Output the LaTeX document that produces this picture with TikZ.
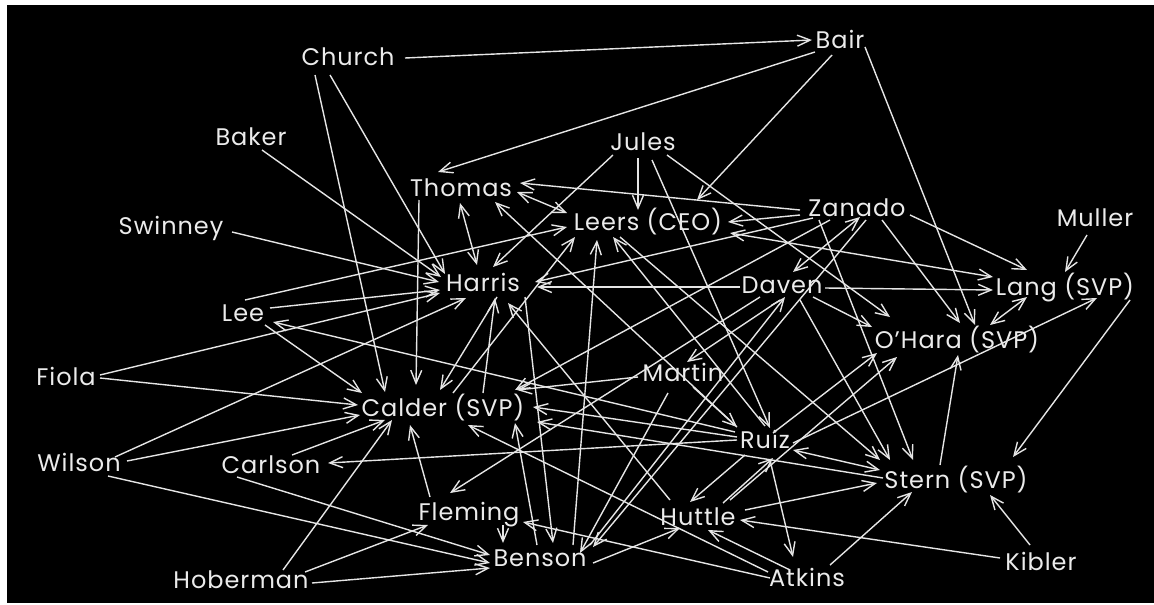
\documentclass[tikz,border=0pt]{standalone}
\usepackage{fontspec}
\setmainfont{Poppins}[LetterSpace=4]
\usetikzlibrary{arrows.meta}
\begin{document}
\begin{tikzpicture}[x=1pt,y=-1pt,
  person/.style={text=white!92!black, font=\fontsize{24}{26}\selectfont,
    inner sep=0pt, text height=17pt, text depth=0pt},
  barb/.tip={Straight Barb[length=13pt,width=11pt]},
  tie/.style={draw=white!90!black, line width=1.4pt, -barb},
  mutual/.style={tie, barb-barb}]
\fill[white] (0,0) rectangle (1154,605);
\fill[black] (7,5) rectangle (1154,603);
\useasboundingbox (0,0) rectangle (1154,605);

% people
\node[person] (church)   at (348,57)  {Church};
\node[person] (bair)     at (840,40)  {Bair};
\node[person] (baker)    at (251,137) {Baker};
\node[person] (swinney)  at (171,226) {Swinney};
\node[person] (jules)    at (643,142) {Jules};
\node[person] (thomas)   at (461,188) {Thomas};
\node[person] (leers)    at (648,222) {Leers (CEO)};
\node[person] (zanado)   at (857,208) {Zanado};
\node[person] (muller)   at (1095,218) {Muller};
\node[person] (harris)   at (483,283) {Harris};
\node[person] (daven)    at (782,285) {Daven};
\node[person] (lang)     at (1065,287) {Lang (SVP)};
\node[person] (lee)      at (243,313) {Lee};
\node[person] (ohara)    at (957,340) {O’Hara (SVP)};
\node[person] (fiola)    at (66,377)  {Fiola};
\node[person] (martin)   at (683,373) {Martin};
\node[person] (calder)   at (443,408) {Calder (SVP)};
\node[person] (ruiz)     at (765,440) {Ruiz};
\node[person] (wilson)   at (79,463)  {Wilson};
\node[person] (carlson)  at (271,465) {Carlson};
\node[person] (stern)    at (956,480) {Stern (SVP)};
\node[person] (fleming)  at (469,512) {Fleming};
\node[person] (huttle)   at (698,517) {Huttle};
\node[person] (benson)   at (540,558) {Benson};
\node[person] (hoberman) at (241,580) {Hoberman};
\node[person] (atkins)   at (807,578) {Atkins};
\node[person] (kibler)   at (1041,562) {Kibler};

% ties, each from a point beside one name to a point beside another
\draw[tie] ([shift={(57,1)}]church.center) -- ([shift={(-28,0)}]bair.center);
\draw[tie] ([shift={(-33,18)}]church.center) -- ([shift={(-58,-16)}]calder.center);
\draw[tie] ([shift={(-18,18)}]church.center) -- ([shift={(-38,-9)}]harris.center);
\draw[tie] ([shift={(-25,12)}]bair.center) -- ([shift={(-23,-16)}]thomas.center);
\draw[tie] ([shift={(-8,15)}]bair.center) -- ([shift={(49,-22)}]leers.center);
\draw[tie] ([shift={(25,7)}]bair.center) -- ([shift={(18,-15)}]ohara.center);
\draw[tie] ([shift={(11,13)}]baker.center) -- ([shift={(-42,-6)}]harris.center);
\draw[tie] ([shift={(61,6)}]swinney.center) -- ([shift={(-44,-1)}]harris.center);
\draw[tie] ([shift={(-30,13)}]jules.center) -- ([shift={(10,-16)}]harris.center);
\draw[tie] ([shift={(-5,16)}]jules.center) -- ([shift={(-10,-12)}]leers.center);
\draw[tie] ([shift={(9,18)}]jules.center) -- ([shift={(5,-12)}]ruiz.center);
\draw[tie] ([shift={(24,13)}]jules.center) -- ([shift={(-67,-23)}]ohara.center);
\draw[mutual] ([shift={(-1,15)}]thomas.center) -- ([shift={(-6,-18)}]harris.center);
\draw[mutual] ([shift={(56,4)}]thomas.center) -- ([shift={(-81,-9)}]leers.center);
\draw[tie] ([shift={(-42,12)}]thomas.center) -- ([shift={(-27,-23)}]calder.center);
\draw[tie] ([shift={(-57,2)}]zanado.center) -- ([shift={(59,-5)}]thomas.center);
\draw[tie] ([shift={(-57,7)}]zanado.center) -- ([shift={(80,0)}]leers.center);
\draw[mutual] ([shift={(3,9)}]zanado.center) -- ([shift={(11,-13)}]daven.center);
\draw[tie] ([shift={(-44,10)}]zanado.center) -- ([shift={(52,-1)}]harris.center);
\draw[tie] ([shift={(-27,12)}]zanado.center) -- ([shift={(72,-18)}]calder.center);
\draw[tie] ([shift={(53,7)}]zanado.center) -- ([shift={(-38,-17)}]lang.center);
\draw[tie] ([shift={(25,12)}]zanado.center) -- ([shift={(3,-17)}]ohara.center);
\draw[tie] ([shift={(-38,12)}]zanado.center) -- ([shift={(-43,-20)}]stern.center);
\draw[tie] ([shift={(9,12)}]zanado.center) -- ([shift={(53,-11)}]benson.center);
\draw[mutual] ([shift={(-72,-10)}]lang.center) -- ([shift={(82,11)}]leers.center);
\draw[tie] ([shift={(43,3)}]daven.center) -- ([shift={(-72,3)}]lang.center);
\draw[tie] ([shift={(-8,17)}]muller.center) -- ([shift={(0,-15)}]lang.center);
\draw[mutual] ([shift={(-38,10)}]lang.center) -- ([shift={(33,-15)}]ohara.center);
\draw[tie] ([shift={(65,13)}]lang.center) -- ([shift={(57,-23)}]stern.center);
\draw[tie] ([shift={(28,3)}]ruiz.center) -- ([shift={(32,11)}]lang.center);
\draw[tie] ([shift={(-16,-15)}]stern.center) -- ([shift={(1,15)}]ohara.center);
\draw[tie] ([shift={(-11,-17)}]kibler.center) -- ([shift={(34,15)}]stern.center);
\draw[tie] ([shift={(-41,-4)}]kibler.center) -- ([shift={(42,3)}]huttle.center);
\draw[tie] ([shift={(23,-13)}]atkins.center) -- ([shift={(-44,12)}]stern.center);
\draw[tie] ([shift={(-17,-8)}]atkins.center) -- ([shift={(10,13)}]huttle.center);
\draw[tie] ([shift={(-37,0)}]atkins.center) -- ([shift={(54,10)}]fleming.center);
\draw[tie] ([shift={(-39,-6)}]atkins.center) -- ([shift={(25,17)}]calder.center);
\draw[tie] ([shift={(5,20)}]ruiz.center) -- ([shift={(-14,-21)}]atkins.center);
\draw[tie] ([shift={(25,-14)}]huttle.center) -- ([shift={(8,18)}]ruiz.center);
\draw[tie] ([shift={(34,-2)}]fiola.center) -- ([shift={(-43,10)}]harris.center);
\draw[tie] ([shift={(34,1)}]fiola.center) -- ([shift={(-85,-3)}]calder.center);
\draw[tie] ([shift={(36,-6)}]wilson.center) -- ([shift={(-17,15)}]harris.center);
\draw[tie] ([shift={(48,-2)}]wilson.center) -- ([shift={(-83,7)}]calder.center);
\draw[tie] ([shift={(29,13)}]wilson.center) -- ([shift={(-50,5)}]benson.center);
\draw[tie] ([shift={(21,-10)}]carlson.center) -- ([shift={(-58,12)}]calder.center);
\draw[tie] ([shift={(-28,0)}]ruiz.center) -- ([shift={(57,-2)}]carlson.center);
\draw[tie] ([shift={(-34,12)}]carlson.center) -- ([shift={(-50,-3)}]benson.center);
\draw[tie] ([shift={(42,-10)}]hoberman.center) -- ([shift={(-51,12)}]calder.center);
\draw[tie] ([shift={(64,-8)}]hoberman.center) -- ([shift={(-41,13)}]fleming.center);
\draw[tie] ([shift={(71,3)}]hoberman.center) -- ([shift={(-50,10)}]benson.center);
\draw[tie] ([shift={(-39,-15)}]fleming.center) -- ([shift={(-33,17)}]calder.center);
\draw[tie] ([shift={(34,13)}]fleming.center) -- ([shift={(-37,-15)}]benson.center);
\draw[tie] ([shift={(33,-13)}]benson.center) -- ([shift={(-51,18)}]leers.center);
\draw[tie] ([shift={(53,5)}]benson.center) -- ([shift={(-18,11)}]huttle.center);
\draw[tie] ([shift={(-3,-13)}]benson.center) -- ([shift={(72,15)}]calder.center);
\draw[tie] ([shift={(50,-13)}]benson.center) -- ([shift={(3,12)}]daven.center);
\draw[tie] ([shift={(27,-5)}]lee.center) -- ([shift={(-43,7)}]harris.center);
\draw[tie] ([shift={(2,-13)}]lee.center) -- ([shift={(-81,5)}]leers.center);
\draw[tie] ([shift={(22,12)}]lee.center) -- ([shift={(-81,-15)}]calder.center);
\draw[tie] ([shift={(-30,-8)}]ruiz.center) -- ([shift={(30,9)}]lee.center);
\draw[tie] ([shift={(-42,2)}]daven.center) -- ([shift={(54,4)}]harris.center);
\draw[tie] ([shift={(31,12)}]daven.center) -- ([shift={(-85,-13)}]ohara.center);
\draw[tie] ([shift={(18,15)}]daven.center) -- ([shift={(-66,-20)}]stern.center);
\draw[tie] ([shift={(-2,15)}]daven.center) -- ([shift={(4,-11)}]martin.center);
\draw[tie] ([shift={(-45,4)}]martin.center) -- ([shift={(74,-18)}]calder.center);
\draw[tie] ([shift={(10,14)}]martin.center) -- ([shift={(-28,-13)}]ruiz.center);
\draw[tie] ([shift={(-15,20)}]martin.center) -- ([shift={(40,-5)}]benson.center);
\draw[tie] ([shift={(-28,-3)}]ruiz.center) -- ([shift={(90,-1)}]calder.center);
\draw[tie] ([shift={(-73,-2)}]stern.center) -- ([shift={(94,14)}]calder.center);
\draw[mutual] ([shift={(28,10)}]ruiz.center) -- ([shift={(-76,-10)}]stern.center);
\draw[tie] ([shift={(-20,15)}]ruiz.center) -- ([shift={(-8,-15)}]huttle.center);
\draw[tie] ([shift={(8,-7)}]ruiz.center) -- ([shift={(-80,13)}]ohara.center);
\draw[tie] ([shift={(32,-17)}]huttle.center) -- ([shift={(-60,17)}]ohara.center);
\draw[tie] ([shift={(47,-7)}]huttle.center) -- ([shift={(-79,3)}]stern.center);
\draw[tie] ([shift={(-28,-17)}]huttle.center) -- ([shift={(25,20)}]harris.center);
\draw[tie] ([shift={(0,-14)}]ruiz.center) -- ([shift={(-35,15)}]leers.center);
\draw[tie] ([shift={(-28,15)}]leers.center) -- ([shift={(-76,-20)}]stern.center);
\draw[tie] ([shift={(10,-15)}]calder.center) -- ([shift={(-73,15)}]leers.center);
\draw[tie] ([shift={(-22,12)}]daven.center) -- ([shift={(-19,-19)}]fleming.center);
\draw[tie] ([shift={(42,14)}]harris.center) -- ([shift={(13,-15)}]benson.center);
\draw[tie] ([shift={(-28,-13)}]ruiz.center) -- ([shift={(34,14)}]thomas.center);
\draw[tie] ([shift={(14,14)}]harris.center) -- ([shift={(-3,-18)}]calder.center);
\draw[tie] ([shift={(40,-15)}]calder.center) -- ([shift={(12,15)}]harris.center);
\end{tikzpicture}
\end{document}
